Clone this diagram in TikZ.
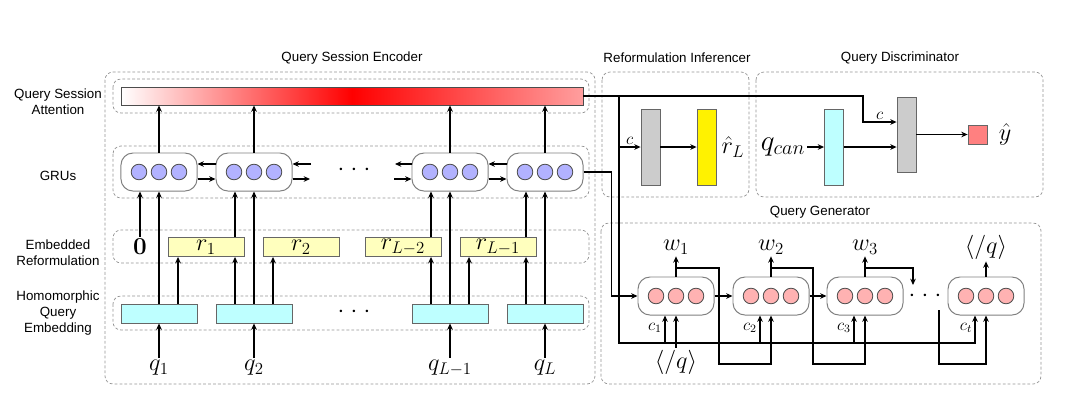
\documentclass[tikz,border=0pt]{standalone}
\usepackage[no-math]{fontspec}
\usepackage{tikz}
\usetikzlibrary{positioning,calc,arrows.meta}
\newfontfamily\labelfont{Liberation Sans}
\definecolor{embcyan}{RGB}{190,255,255}
\definecolor{refyellow}{RGB}{255,255,190}
\newcommand{\spaceddots}{${\cdot}\hspace{4.5pt}{\cdot}\hspace{4.5pt}{\cdot}$}

\begin{document}
\begin{tikzpicture}[x=0.025cm, y=-0.025cm, >={Stealth[length=4.5pt,width=4pt]}, line width=1.25pt,
    group/.style={draw=gray!85, line width=0.5pt, dash pattern=on 2pt off 1.5pt, rounded corners=0.2cm},
    title/.style={font=\labelfont\fontsize{9.5}{11}\selectfont},
    rowlabel/.style={font=\labelfont\fontsize{9.5}{11.5}\selectfont, align=center},
    gru/.style={draw=gray, line width=0.7pt, rounded corners=0.3cm, minimum width=1.9cm, minimum height=0.95cm},
    gunit/.style={circle, draw=black!70, line width=0.6pt, minimum size=0.39cm, inner sep=0pt},
    vecbox/.style={draw=black!60, line width=0.6pt, inner sep=0pt, minimum width=1.9cm, minimum height=0.475cm},
    tallbox/.style={draw=black!60, line width=0.6pt, inner sep=0pt, minimum width=0.475cm, minimum height=1.9cm},
    sym/.style={font=\LARGE, inner sep=1pt},
    clab/.style={font=\large, inner sep=1pt}]
    \useasboundingbox (0,0) rectangle (1080,404);

    % titles and row labels
    \node [title] (t-enc) at (352,58) {Query Session Encoder};
    \node [title] (t-inf) at (677,58) {Reformulation Inferencer};
    \node [title] (t-dis) at (900,58) {Query Discriminator};
    \node [title] (t-gen) at (820,212) {Query Generator};
    \node [rowlabel] (l-att) at (58,102) {Query Session\\Attention};
    \node [rowlabel] (l-gru) at (58,176) {GRUs};
    \node [rowlabel] (l-emb) at (58,253) {Embedded\\Reformulation};
    \node [rowlabel] (l-hom) at (58,313) {Homomorphic\\Query\\Embedding};

    % dashed groups
    \draw [group] (105,72) rectangle (595,384);
    \draw [group] (113,79) rectangle (589,113);
    \draw [group] (113,146) rectangle (589,198);
    \draw [group] (113,230) rectangle (589,263);
    \draw [group] (113,296) rectangle (589,330);
    \draw [group] (602,72) rectangle (749,197);
    \draw [group] (756,72) rectangle (1043,197);
    \draw [group] (601,223) rectangle (1041,384);

    % encoder
    \node [draw=black!70, line width=0.6pt, inner sep=0pt, minimum width=11.55cm, minimum height=0.45cm,
           left color=white, right color=red!38, middle color=red] (att) at (352,96) {};
    \foreach \name/\x in {g1/159, g2/254, g3/450, g4/545} {
        \node [gru] (\name) at (\x,172) {};
        \foreach \k/\dx in {a/-20, b/0, c/20}
            \node [gunit, fill=blue!30] (\name\k) at ($(\name)+(\dx,0)$) {};
        \draw [->] (\name) -- (\name |- att.south);
    }
    \draw [->] ($(g2.west)+(0,-8)$) -- ($(g1.east)+(0,-8)$);
    \draw [->] ($(g1.east)+(0,7)$) -- ($(g2.west)+(0,7)$);
    \draw [->] ($(g4.west)+(0,-8)$) -- ($(g3.east)+(0,-8)$);
    \draw [->] ($(g3.east)+(0,7)$) -- ($(g4.west)+(0,7)$);
    \coordinate (s2u) at (311,164);
    \coordinate (s2l) at (310,179);
    \coordinate (s3u) at (395,164);
    \coordinate (s3l) at (394,179);
    \draw [->] (s2u) -- (s2u -| g2.east);
    \draw [->] (s2l -| g2.east) -- (s2l);
    \draw [->] (s3u -| g3.west) -- (s3u);
    \draw [->] (s3l) -- (s3l -| g3.west);
    \node [sym] (dots-gru) at (354,170) {\spaceddots};

    \node [sym] (zero) at (140,247) {$\mathbf{0}$};
    \foreach \name/\x/\lab in {r1/206/r_1, r2/301/r_2, r3/403/r_{L-2}, r4/498/r_{L-1}}
        \node [vecbox, fill=refyellow, font=\LARGE] (\name) at (\x,247) {$\lab$};
    \foreach \name/\x in {e1/159, e2/254, e3/450, e4/545}
        \node [vecbox, fill=embcyan] (\name) at (\x,313.5) {};
    \node [sym] (dots-hom) at (354,312) {\spaceddots};
    \foreach \name/\x/\lab in {q1/159/q_1, q2/254/q_2, q3/450/q_{L-1}, q4/545/q_L}
        \node [sym] (\name) at (\x,368) {$\lab$};

    \foreach \i in {1,...,4} {
        \draw [->] (q\i) -- (e\i);
        \draw [->] (e\i) -- (g\i);
    }
    \draw [->] (zero) -- (zero |- g1.south);
    \foreach \e/\r in {e1/r1, e2/r2, e3/r4}
        \draw [->] ($(\e.north)+(19,0)$) -- ($(\r.south -| \e)+(19,0)$);
    \foreach \r/\j in {r1/2, r3/3, r4/4} {
        \draw [->] ($(e\j.north)+(-19,0)$) -- ($(\r.south -| e\j)+(-19,0)$);
        \draw [->] ($(\r.north -| g\j)+(-19,0)$) -- ($(g\j.south)+(-19,0)$);
    }

    % reformulation inferencer
    \node [tallbox, fill=gray!40] (ig) at (650.5,147) {};
    \node [tallbox, fill=yellow] (iy) at (706.5,147) {};
    \node [sym] (rhat) at (733,147) {$\hat{r}_L$};
    \draw [->] (ig) -- (iy);

    % query discriminator
    \node [sym, font=\huge] (qcan) at (783,147) {$q_{can}$};
    \node [tallbox, fill=embcyan] (dq) at (834,147) {};
    \node [tallbox, fill=gray!40, minimum height=1.875cm] (dg) at (906.5,134.5) {};
    \node [draw=black!60, line width=0.6pt, fill=red!50, inner sep=0pt, minimum size=0.475cm] (yout) at (977.5,134.5) {};
    \node [sym] (yhat) at (1005,134) {$\hat{y}$};
    \draw [->] (qcan) -- (dq);
    \draw [->] (dq.east) -- (dq.east -| dg.west);
    \draw [->] (dg) -- (yout);

    % query generator
    \foreach \name/\x in {n1/676, n2/771, n3/865, n4/986} {
        \node [gru] (\name) at (\x,296) {};
        \foreach \k/\dx in {a/-20, b/0, c/20}
            \node [gunit, fill=red!30] (\name\k) at ($(\name)+(\dx,0)$) {};
    }
    \draw [->] (n1) -- (n2);
    \draw [->] (n2) -- (n3);
    \node [sym] (dots-gen) at (925,296) {\spaceddots};
    \foreach \name/\lab in {n1/w_1, n2/w_2, n3/w_3, n4/{\langle/q\rangle}} {
        \node [sym] (\name-out) at ($(\name)+(0,-49)$) {$\lab$};
        \draw [->] (\name) -- (\name-out);
    }
    \node [sym] (eos) at (676,362) {$\langle/q\rangle$};
    \draw [->] (eos) -- (eos |- n1.south);

    \coordinate (f1) at (719,268);
    \coordinate (f1b) at (719,364);
    \coordinate (f2) at (813,268);
    \coordinate (f2b) at (813,364);
    \coordinate (f3) at (913,268);
    \coordinate (f3end) at (913,285);
    \coordinate (f4) at (939,310);
    \coordinate (f4b) at (939,364);
    \draw [->] (n1 |- f1) -- (f1) -- (f1b) -| (n2.south);
    \draw [->] (n2 |- f2) -- (f2) -- (f2b) -| (n3.south);
    \draw [->] (n3 |- f3) -- (f3) -- (f3end);
    \draw [->] (f4) -- (f4b) -| (n4.south);

    % context vector c
    \coordinate (cbus) at (619,343);
    \coordinate (cturn) at (863,122);
    \draw [->] (att.east) -| (cturn) -- node [clab, above] (c-dis) {$c$} (cturn -| dg.west);
    \draw [->] (att.east -| cbus) -- (cbus) -| ($(n4.south)+(-11,0)$);
    \draw [->] (ig.west -| cbus) -- node [clab, above] (c-inf) {$c$} (ig.west);
    \foreach \i in {1,2,3}
        \draw [->] ($(cbus -| n\i)+(-11,0)$) -- ($(n\i.south)+(-11,0)$);
    \draw [->] (g4.east) -| ($(n1.west)+(-26,0)$) -- (n1.west);
    \node [clab] (c1) at (655,328) {$c_1$};
    \node [clab] (c2) at (750,328) {$c_2$};
    \node [clab] (c3) at (844,328) {$c_3$};
    \node [clab] (ct) at (966,328) {$c_t$};
\end{tikzpicture}
\end{document}
